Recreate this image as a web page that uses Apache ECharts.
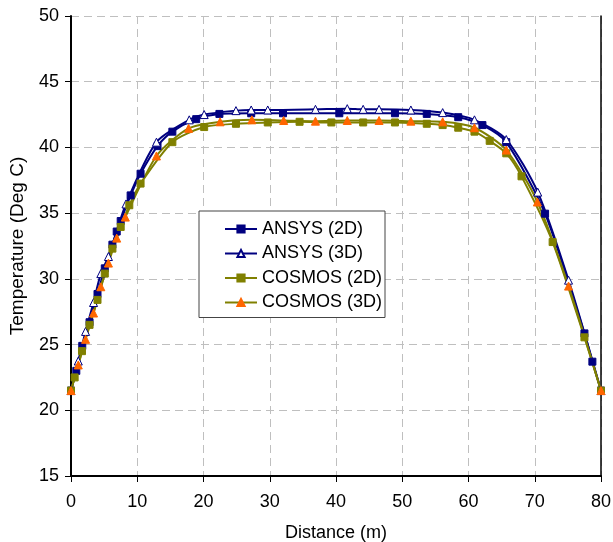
<!DOCTYPE html>
<html><head><meta charset="utf-8">
<script src="https://cdn.jsdelivr.net/npm/echarts@6/dist/echarts.min.js"></script>
<style>html,body{margin:0;padding:0;background:#fff}#c{width:613px;height:542px}</style>
</head><body><div id="c"></div>
<script>
var seriesNames = ['ANSYS (2D)', 'ANSYS (3D)', 'COSMOS (2D)', 'COSMOS (3D)'];
var ansys2D = [[0,21.5],[0.8,23.0],[1.7,24.9],[2.8,26.7],[4.0,28.85],[5.1,30.8],[6.25,32.6],[6.9,33.6],[7.5,34.4],[9.0,36.35],[10.5,38.0],[13.06,40.1],[15.3,41.2],[18.9,42.15],[22.4,42.55],[27.2,42.6],[32.0,42.6],[40.5,42.6],[48.9,42.6],[53.7,42.55],[58.45,42.3],[62.1,41.7],[65.7,40.4],[71.56,34.96],[77.5,25.85],[78.7,23.7],[80,21.5]];
var ansys3D = [[0,21.5],[1.1,23.75],[2.2,26.0],[3.4,28.2],[4.5,30.4],[5.65,31.7],[8.3,35.7],[12.9,40.4],[17.85,42.1],[20.1,42.5],[24.9,42.8],[27.2,42.85],[29.7,42.85],[36.9,42.9],[41.7,42.95],[44.1,42.9],[46.5,42.9],[51.3,42.85],[56.1,42.65],[60.9,42.1],[65.7,40.6],[70.45,36.6],[75.1,29.9],[80,21.5]];
var cosmos2D = [[0,21.5],[0.55,22.5],[1.66,24.5],[2.8,26.5],[4.0,28.4],[5.1,30.4],[6.25,32.3],[7.5,33.95],[8.8,35.6],[10.5,37.25],[15.3,40.4],[20.1,41.55],[24.9,41.8],[29.7,41.9],[34.5,41.95],[39.3,41.9],[44.1,41.9],[48.9,41.9],[53.7,41.8],[56.1,41.7],[58.45,41.5],[60.9,41.2],[63.2,40.5],[65.7,39.55],[68.0,37.8],[72.7,32.8],[77.5,25.55],[80,21.5]];
var cosmos3D = [[0,21.5],[1.1,23.45],[2.2,25.4],[3.4,27.4],[4.5,29.4],[5.65,31.2],[6.9,33.1],[8.2,34.7],[12.9,39.35],[17.75,41.45],[22.5,41.95],[27.3,42.1],[32.1,42.05],[36.9,42.0],[41.7,42.05],[46.5,42.05],[51.3,42.0],[56.1,41.95],[60.9,41.5],[65.7,39.8],[70.4,35.85],[75.1,29.45],[80,21.5]];
var xTitle = 'Distance (m)';
var yTitle = 'Temperature (Deg C)';

var FONT = 'Liberation Sans, Arial, sans-serif';
var chart = echarts.init(document.getElementById('c'), null, {renderer: 'canvas'});
var gridDash = {color: '#bfbfbf', width: 1, type: [8, 5]};
function mk(name, data, color, symbol, fill, bcolor, size) {
  return {
    name: name, type: 'line', data: data, smooth: 0.25,
    symbol: symbol, symbolSize: size, showSymbol: true,
    lineStyle: {color: color, width: 2},
    itemStyle: {color: fill, borderColor: bcolor, borderWidth: 1},
    emphasis: {disabled: true}, animation: false
  };
}
chart.setOption({
  animation: false,
  backgroundColor: '#ffffff',
  grid: {left: 71, right: 12, top: 16, bottom: 66, containLabel: false, outerBoundsMode: 'none'},
  legend: {
    orient: 'vertical', left: 199, top: 211,
    backgroundColor: '#ffffff',
    borderColor: '#444', borderWidth: 1,
    padding: [8, 3, 5, 25],
    itemWidth: 32, itemHeight: 9, itemGap: 4.5,
    textStyle: {fontFamily: FONT, fontSize: 18, color: '#000', lineHeight: 20},
    data: seriesNames
  },
  xAxis: {
    type: 'value', min: 0, max: 80, interval: 10,
    name: xTitle, nameLocation: 'middle', nameGap: 48,
    nameTextStyle: {fontFamily: FONT, fontSize: 18, color: '#000'},
    axisLine: {show: true, onZero: false, lineStyle: {color: '#000', width: 2}},
    axisTick: {show: true, inside: false, length: 6, lineStyle: {color: '#000', width: 1}},
    axisLabel: {fontFamily: FONT, fontSize: 18, color: '#000', margin: 17},
    splitLine: {show: true, lineStyle: gridDash}
  },
  yAxis: [{
    type: 'value', min: 15, max: 50, interval: 5,
    name: yTitle, nameLocation: 'middle', nameGap: 44, nameRotate: 90,
    nameTextStyle: {fontFamily: FONT, fontSize: 19, color: '#000'},
    axisLine: {show: true, onZero: false, lineStyle: {color: '#000', width: 2}},
    axisTick: {show: true, inside: false, length: 6, lineStyle: {color: '#000', width: 1}},
    axisLabel: {fontFamily: FONT, fontSize: 18, color: '#000', margin: 12},
    splitLine: {show: true, lineStyle: gridDash}
  }, {
    type: 'value', min: 15, max: 50, interval: 5, position: 'right',
    axisLine: {show: true, onZero: false, lineStyle: {color: '#000', width: 1.5}},
    axisTick: {show: false}, axisLabel: {show: false}, splitLine: {show: false}
  }],
  series: [
    mk(seriesNames[0], ansys2D, '#000080', 'rect', '#000080', '#000080', 7),
    mk(seriesNames[1], ansys3D, '#000080', 'triangle', '#ffffff', '#000080', 8),
    mk(seriesNames[2], cosmos2D, '#808000', 'rect', '#808000', '#808000', 7),
    mk(seriesNames[3], cosmos3D, '#808000', 'triangle', '#ff6600', '#ff6600', 8)
  ]
});
</script></body></html>
